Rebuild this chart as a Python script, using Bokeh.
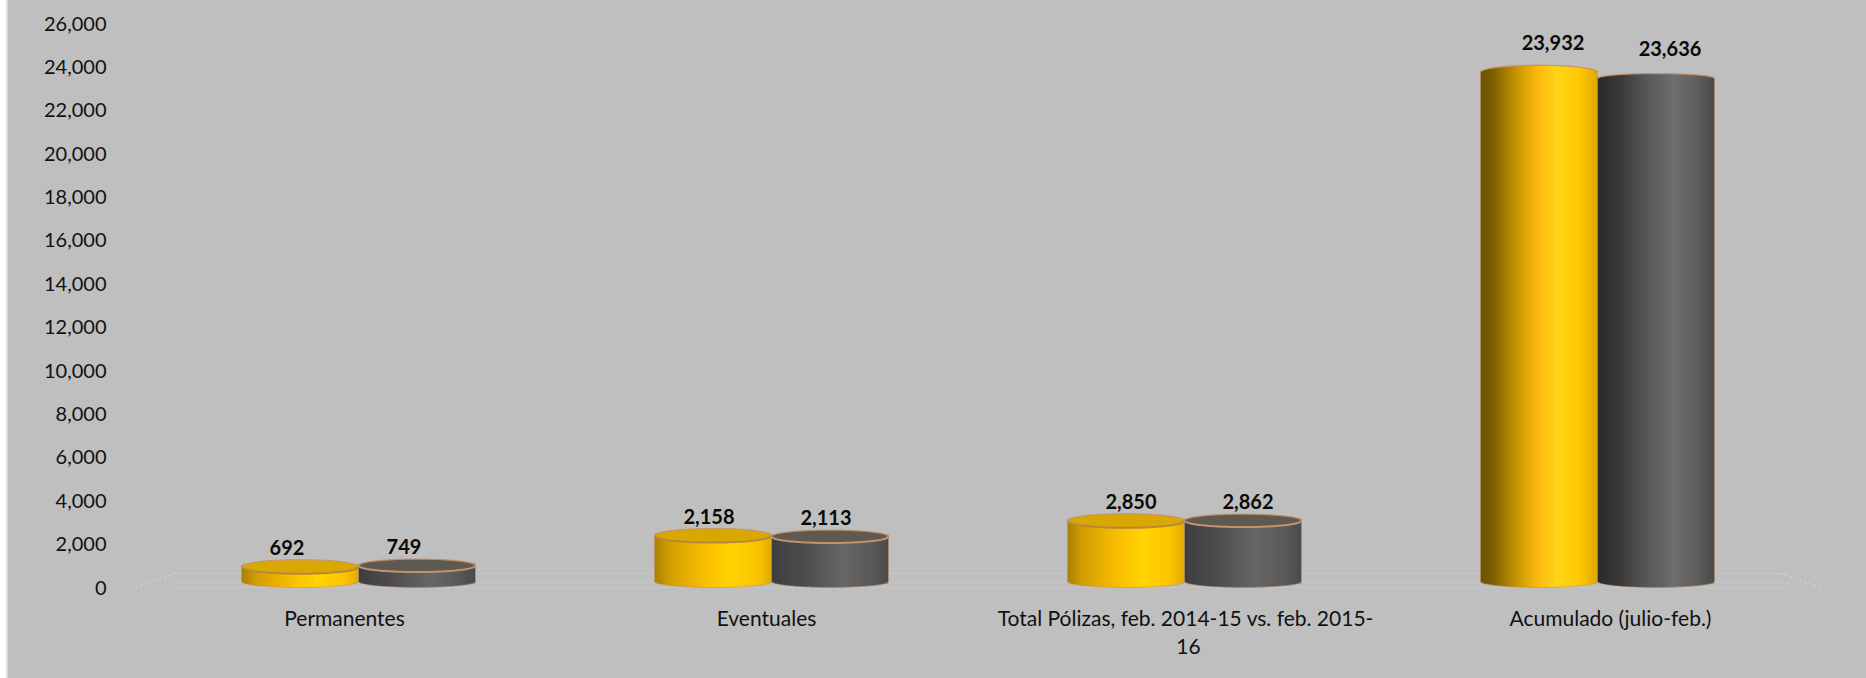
from bokeh.plotting import figure
from bokeh.models import Range1d, LinearAxis, FixedTicker, NumeralTickFormatter, ColumnDataSource
from bokeh.embed import file_html
from bokeh.resources import INLINE
from bokeh.core.properties import value
import numpy as np

# ---- data ----
categories = ["Permanentes", "Eventuales", "Total Pólizas, feb. 2014-15  vs. feb. 2015-\n16", "Acumulado (julio-feb.)"]
serie_2014_15 = [692, 2158, 2850, 23932]
serie_2015_16 = [749, 2113, 2862, 23636]
y_ticks = list(range(0, 26001, 2000))

# ---- layout (page pixels) ----
W, H = 1858, 678
FIG_LEFT = 8
FRAME_L, FRAME_T, FRAME_B = 125, 10, 597
CAT0, CAT_STEP = 358, 413.0
AX_ZERO, AX_SCALE = 587, (587 - 23) / 26000
BAR_ZERO, BAR_SCALE = 581, 0.02128
BAR_W = 117 / CAT_STEP
FONT = "Lato"

def xpx(px):
    return (px - CAT0) / CAT_STEP

def shift(i):
    return -14 + 9 * i

x_range = Range1d(xpx(FRAME_L), xpx(FIG_LEFT + W))
y_range = Range1d(-(FRAME_B - AX_ZERO) / AX_SCALE, (AX_ZERO - FRAME_T) / AX_SCALE)

p = figure(width=W, height=H, x_range=x_range, y_range=y_range, output_backend="svg",
           toolbar_location=None, background_fill_alpha=0, border_fill_alpha=0,
           x_axis_type=None, y_axis_type=None,
           min_border_left=FRAME_L - FIG_LEFT, min_border_right=0,
           min_border_top=FRAME_T, min_border_bottom=H - FRAME_B)
p.margin = (0, 0, 0, FIG_LEFT)
p.styles = {"background-color": "#bfbfbf", "box-shadow": "-2px 0 0 #dedede"}
p.outline_line_color = None
p.grid.visible = False
p.extra_y_ranges = {"bars": Range1d(-(FRAME_B - BAR_ZERO) / BAR_SCALE, (BAR_ZERO - FRAME_T) / BAR_SCALE)}

# axes
yax = LinearAxis(ticker=FixedTicker(ticks=y_ticks), formatter=NumeralTickFormatter(format="0,0"))
yax.axis_line_color = None
yax.major_tick_line_color = None
yax.minor_tick_line_color = None
yax.major_label_text_font = FONT
yax.major_label_text_font_size = "20px"
yax.major_label_text_color = "#111111"
yax.major_label_standoff = 13
p.add_layout(yax, "left")

tick_pos = [i + shift(i) / CAT_STEP for i in range(len(categories))]
xax = LinearAxis(ticker=FixedTicker(ticks=tick_pos),
                 major_label_overrides={t: c for t, c in zip(tick_pos, categories)})
xax.axis_line_color = None
xax.major_tick_line_color = None
xax.minor_tick_line_color = None
xax.major_label_text_font = FONT
xax.major_label_text_font_size = "21px"
xax.major_label_text_color = "#111111"
xax.major_label_text_line_height = 1.12
xax.major_label_standoff = 1
p.add_layout(xax, "below")

# floor reflections
for py in (573, 582, 587):
    v = (AX_ZERO - py) / AX_SCALE
    p.segment(xpx(170), v, xpx(1790), v, line_color="#c9c9c9", line_width=1, line_alpha=0.7)
p.segment(xpx(135), 0, xpx(175), (AX_ZERO - 573) / AX_SCALE, line_color="#d2d2d2", line_width=1.5, line_dash="2 3")
p.segment(xpx(1780), (AX_ZERO - 573) / AX_SCALE, xpx(1820), 0, line_color="#d2d2d2", line_width=1.5, line_dash="2 3")

# cylinder gradients: (position, colour)
GRAD = {
    ("y", True):  [(0, "#6b5200"), (.10, "#7a5e00"), (.30, "#c49400"), (.50, "#fdbb10"), (.65, "#ffd515"), (.85, "#ffc800"), (1, "#dca600")],
    ("d", True):  [(0, "#2a2a2a"), (.20, "#3a3a3a"), (.40, "#555555"), (.65, "#6e6e6e"), (.85, "#5f5f5f"), (1, "#4d4a46")],
    ("y", False): [(0, "#a88000"), (.12, "#d09c00"), (.45, "#fcc000"), (.65, "#ffd400"), (.88, "#fcc400"), (1, "#e0aa00")],
    ("d", False): [(0, "#3c3e40"), (.30, "#4e4e4e"), (.60, "#666666"), (.85, "#5a5a5a"), (1, "#4a4a4a")],
}
CAP = {"y": ("#d8a800", "#b8863a"), "d": ("#5f5a50", "#c4936b")}
RIM = "#c4936b"
N = 58
OVERLAP = 1.2 / CAT_STEP

def hex_rgb(h):
    return np.array([int(h[j:j + 2], 16) for j in (1, 3, 5)], dtype=float)

def grad_color(stops, t):
    ts = [s[0] for s in stops]
    rgb = np.array([hex_rgb(s[1]) for s in stops])
    c = [np.interp(t, ts, rgb[:, k]) for k in range(3)]
    return "#%02x%02x%02x" % tuple(int(round(v)) for v in c)

def cylinder(cx, val, kind, tall, cap_half_px):
    base_half = 6 / BAR_SCALE
    cap_half = cap_half_px / BAR_SCALE
    edges = np.linspace(-1, 1, N + 1)
    mids = (edges[:-1] + edges[1:]) / 2
    arc = np.sqrt(np.clip(1 - mids ** 2, 0, 1))
    right = cx + edges[1:] * BAR_W / 2 + OVERLAP
    right[-1] = cx + BAR_W / 2
    src = ColumnDataSource(dict(
        left=cx + edges[:-1] * BAR_W / 2,
        right=right,
        bottom=-arc * base_half,
        top=val + arc * cap_half,
        color=[grad_color(GRAD[(kind, tall)], (m + 1) / 2) for m in mids],
    ))
    p.quad(left="left", right="right", bottom="bottom", top="top", fill_color="color",
           line_color=None, y_range_name="bars", source=src)

    u = np.linspace(-1, 1, 81)
    a = np.sqrt(1 - u ** 2)
    xs = cx + u * BAR_W / 2
    if not tall:
        fill, rim = CAP[kind]
        p.patch(xs.tolist() + xs[::-1].tolist(),
                (val + a * cap_half).tolist() + (val - a[::-1] * cap_half).tolist(),
                fill_color=fill, line_color=None, y_range_name="bars")
        p.line(xs, val - a * cap_half, line_color=rim, line_width=2, y_range_name="bars")
    p.line(xs, val + a * cap_half, line_color=RIM, line_width=1.3, line_alpha=0.9, y_range_name="bars")
    p.line(xs, -a * base_half, line_color=RIM, line_width=1, line_alpha=0.6, y_range_name="bars")
    p.segment([cx - BAR_W / 2, cx + BAR_W / 2], [0, 0], [cx - BAR_W / 2, cx + BAR_W / 2], [val, val],
              line_color=RIM, line_width=1, line_alpha=0.55, y_range_name="bars")

xs_y, xs_d = [], []
for i in range(len(categories)):
    tall = serie_2014_15[i] > 10000
    cy, cd = i - BAR_W / 2, i + BAR_W / 2
    xs_y.append(cy)
    xs_d.append(cd)
    cylinder(cy, serie_2014_15[i], "y", tall, 7)
    cylinder(cd, serie_2015_16[i], "d", tall, 5 if tall else 6.5)

# data labels
lab_x = xs_y + xs_d
lab_v = serie_2014_15 + serie_2015_16
lab_src = ColumnDataSource(dict(
    x=lab_x, y=lab_v, t=[f"{v:,}" for v in lab_v],
    dx=[shift(i) + 1 for i in range(4)] * 2,
    dy=[-30 if v > 10000 else -19 for v in lab_v],
))
p.text(x="x", y="y", text="t", x_offset="dx", y_offset="dy", source=lab_src, y_range_name="bars",
       text_font=value(FONT), text_font_style="bold", text_font_size="20px", text_color="#0a0a0a",
       text_align="center", text_baseline="middle")

open("out.html", "w").write(file_html(p, INLINE))
